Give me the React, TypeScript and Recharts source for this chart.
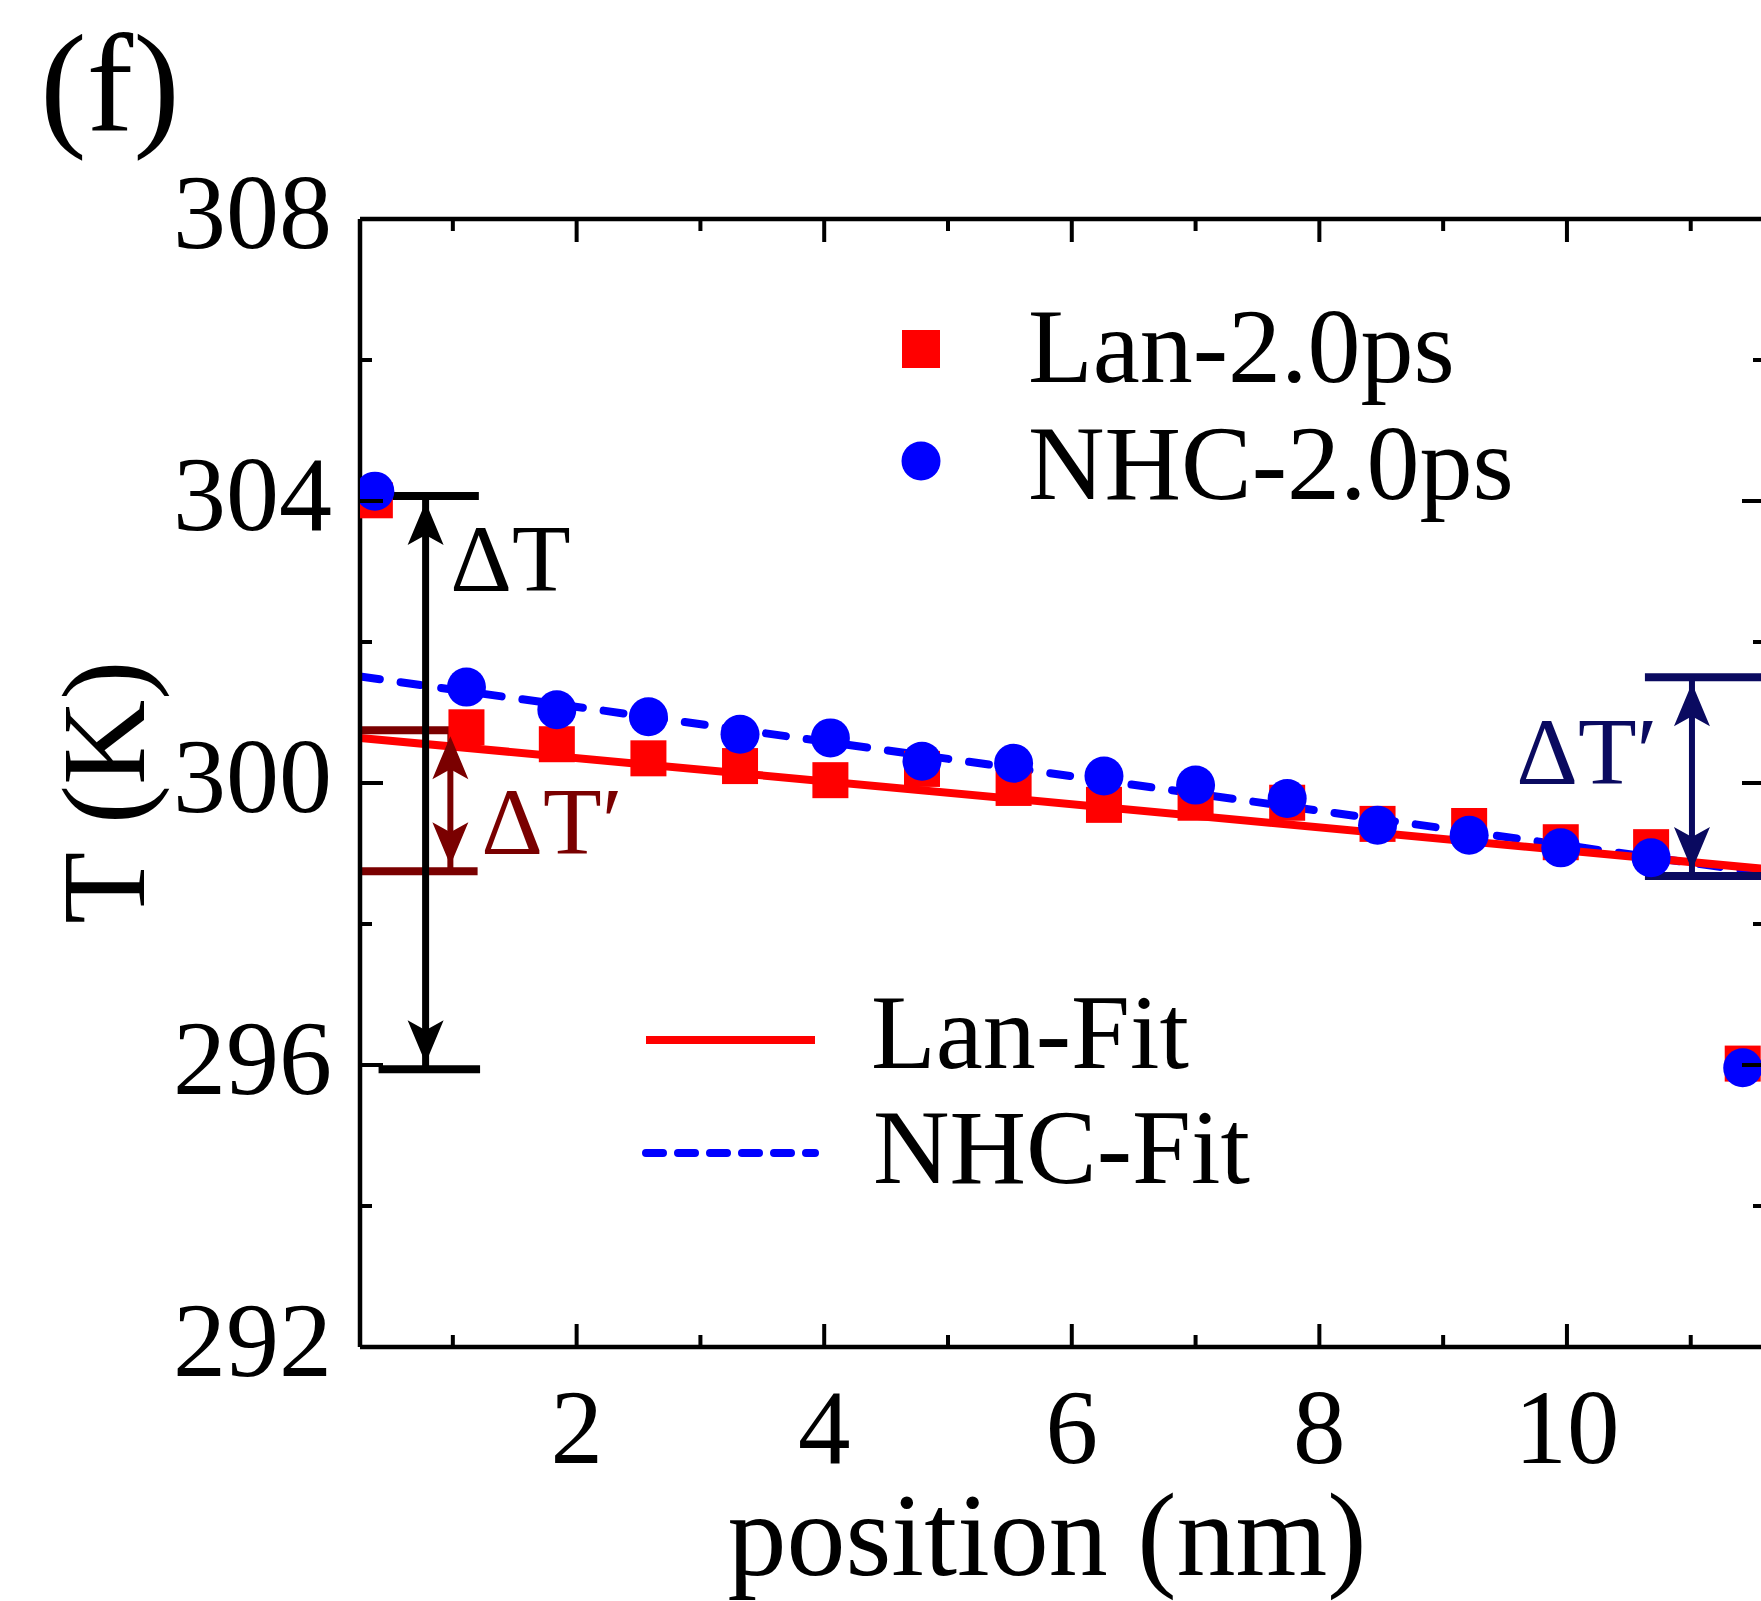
import React from 'react';
import {
    ComposedChart,
    XAxis,
    YAxis,
    Scatter,
    Line,
    ReferenceLine,
    ReferenceDot,
    Label
} from 'recharts';

// slab centres (nm) and temperatures (K)
const positions = [0.37, 1.11, 1.84, 2.58, 3.32, 4.05, 4.79, 5.53, 6.26, 7.0, 7.74, 8.47, 9.21, 9.95, 10.68, 11.42];
const lanTemps = [304.01, 300.79, 300.55, 300.35, 300.24, 300.04, 300.2, 299.93, 299.69, 299.72, 299.72, 299.42, 299.39, 299.16, 299.09, 296.02];
const nhcTemps = [304.14, 301.36, 301.04, 300.94, 300.69, 300.64, 300.31, 300.28, 300.1, 299.97, 299.78, 299.4, 299.26, 299.08, 298.94, 295.96];

// linear fits, end points
const fitX = [0.25, 11.6];
const lanFitTemps = [300.64, 298.78];
const nhcFitTemps = [301.51, 298.72];

// axes
const xDomain = [0.25, 11.6];
const yDomain = [292, 308];
const xTickValues = [1, 2, 3, 4, 5, 6, 7, 8, 9, 10, 11];
const xLabelValues = [2, 4, 6, 8, 10];
const yTickValues = [292, 294, 296, 298, 300, 302, 304, 306, 308];
const yLabelValues = [292, 296, 300, 304, 308];

// annotation levels (K)
const deltaTLevels = [304.07, 295.94];
const lanBandLevels = [300.75, 298.75];
const nhcBandLevels = [301.5, 298.68];

const FONT = '"Liberation Serif", "Times New Roman", Times, serif';
const CHART_W = 1800;
const CHART_H = 1601;
const PLOT_TOP = 219;
const PLOT_LEFT = 360;
const PLOT_RIGHT = 1765;
const PLOT_BOTTOM = 1347;
const MAJOR = 23;
const MINOR = 12;

const RED = '#ff0000';
const BLUE = '#0000ff';
const MAROON = '#7a0000';
const NAVY = '#0a0a60';

const lanPoints = positions.map((x, i) => ({ x, y: lanTemps[i] }));
const nhcPoints = positions.map((x, i) => ({ x, y: nhcTemps[i] }));
const lanFit = fitX.map((x, i) => ({ x, y: lanFitTemps[i] }));
const nhcFit = fitX.map((x, i) => ({ x, y: nhcFitTemps[i] }));

const XTick = (props: any) => {
    const { x, y, payload } = props;
    const v = payload.value;
    const major = xLabelValues.includes(v);
    const len = major ? MAJOR : MINOR;
    return (
        <g>
            <line x1={x} y1={y} x2={x} y2={y - len} stroke="#000" strokeWidth={4} />
            <line x1={x} y1={PLOT_TOP} x2={x} y2={PLOT_TOP + len} stroke="#000" strokeWidth={4} />
            {major && (
                <text x={x} y={y + 116} textAnchor="middle" fontSize={105} fontFamily={FONT} fill="#000">
                    {v}
                </text>
            )}
        </g>
    );
};

const YTick = (props: any) => {
    const { x, y, payload } = props;
    const v = payload.value;
    const major = yLabelValues.includes(v);
    const len = major ? MAJOR : MINOR;
    return (
        <g>
            <line x1={x} y1={y} x2={x + len} y2={y} stroke="#000" strokeWidth={4} />
            <line x1={PLOT_RIGHT} y1={y} x2={PLOT_RIGHT - len} y2={y} stroke="#000" strokeWidth={4} />
            {major && (
                <text x={x - 28} y={y + 29} textAnchor="end" fontSize={106} fontFamily={FONT} fill="#000">
                    {v}
                </text>
            )}
        </g>
    );
};

const square = (props: any) => (
    <rect x={props.cx - 18} y={props.cy - 18} width={36} height={36} fill={RED} />
);
const circle = (props: any) => <circle cx={props.cx} cy={props.cy} r={19.5} fill={BLUE} />;

// arrow head; dir = 1 points up (sits under a level), -1 points down
const arrowHead = (color: string, dir: number) => (props: any) => {
    const { cx, cy } = props;
    const tip = cy + dir * 6;
    const p = (dx: number, dy: number) => `${cx + dx},${tip + dir * dy}`;
    return <polygon points={`${p(0, 0)} ${p(-18, 43)} ${p(0, 33)} ${p(18, 43)}`} fill={color} />;
};

const note = (text: string, color: string) => (props: any) => (
    <text x={props.cx} y={props.cy} fontSize={96} fontFamily={FONT} fill={color}>
        {text}
    </text>
);

const hSeg = (x0: number, x1: number, y: number) => [{ x: x0, y }, { x: x1, y }];
const vSeg = (x: number, y0: number, y1: number) => [{ x, y: y0 }, { x, y: y1 }];

export default function App() {
    return (
        <div
            style={{
                position: 'absolute',
                left: 0,
                top: 0,
                width: 1761,
                height: 1601,
                overflow: 'hidden',
                background: '#fff'
            }}
        >
            <ComposedChart
                width={CHART_W}
                height={CHART_H}
                margin={{ top: PLOT_TOP, right: CHART_W - PLOT_RIGHT, bottom: 0, left: 0 }}
            >
                <XAxis
                    dataKey="x"
                    type="number"
                    domain={xDomain}
                    allowDataOverflow
                    ticks={xTickValues}
                    interval={0}
                    height={CHART_H - PLOT_BOTTOM}
                    tickSize={0}
                    tickMargin={0}
                    tickLine={false}
                    tick={<XTick />}
                    axisLine={{ stroke: '#000', strokeWidth: 4.5 }}
                >
                    <Label
                        content={() => (
                            <text x={1047} y={1575} textAnchor="middle" fontSize={118} fontFamily={FONT} fill="#000">
                                position (nm)
                            </text>
                        )}
                    />
                </XAxis>
                <YAxis
                    dataKey="y"
                    type="number"
                    domain={yDomain}
                    allowDataOverflow
                    ticks={yTickValues}
                    interval={0}
                    width={PLOT_LEFT}
                    tickSize={0}
                    tickMargin={0}
                    tickLine={false}
                    tick={<YTick />}
                    axisLine={{ stroke: '#000', strokeWidth: 4.5 }}
                >
                    <Label
                        content={() => (
                            <text
                                x={144}
                                y={792}
                                transform="rotate(-90 144 792)"
                                textAnchor="middle"
                                fontSize={118}
                                fontFamily={FONT}
                                fill="#000"
                            >
                                T (K)
                            </text>
                        )}
                    />
                </YAxis>

                <ReferenceLine y={308} stroke="#000" strokeWidth={4.5} />
                <ReferenceLine x={11.6} stroke="#000" strokeWidth={4.5} />

                <Scatter name="Lan-2.0ps" data={lanPoints} shape={square} isAnimationActive={false} />
                <Scatter name="NHC-2.0ps" data={nhcPoints} shape={circle} isAnimationActive={false} />
                <Line
                    name="NHC-Fit"
                    data={nhcFit}
                    dataKey="y"
                    stroke={BLUE}
                    strokeWidth={8}
                    strokeDasharray="20 21"
                    strokeLinecap="round"
                    dot={false}
                    activeDot={false}
                    type="linear"
                    isAnimationActive={false}
                />
                <Line
                    name="Lan-Fit"
                    data={lanFit}
                    dataKey="y"
                    stroke={RED}
                    strokeWidth={8}
                    dot={false}
                    activeDot={false}
                    type="linear"
                    isAnimationActive={false}
                />

                {/* Lan ΔT′ band */}
                <ReferenceLine segment={hSeg(0.25, 1.2, lanBandLevels[0])} stroke={MAROON} strokeWidth={8} />
                <ReferenceLine segment={hSeg(0.25, 1.2, lanBandLevels[1])} stroke={MAROON} strokeWidth={8} />
                <ReferenceLine segment={vSeg(0.98, lanBandLevels[0], lanBandLevels[1])} stroke={MAROON} strokeWidth={6} />
                <ReferenceDot x={0.98} y={lanBandLevels[0]} shape={arrowHead(MAROON, 1)} />
                <ReferenceDot x={0.98} y={lanBandLevels[1]} shape={arrowHead(MAROON, -1)} />
                <ReferenceDot x={1.23} y={299.0} shape={note('\u0394T\u2032', MAROON)} />

                {/* ΔT between the baths */}
                <ReferenceLine segment={hSeg(0.25, 1.21, deltaTLevels[0])} stroke="#000" strokeWidth={8} />
                <ReferenceLine segment={hSeg(0.4, 1.22, deltaTLevels[1])} stroke="#000" strokeWidth={8} />
                <ReferenceLine segment={vSeg(0.78, deltaTLevels[0], deltaTLevels[1])} stroke="#000" strokeWidth={7} />
                <ReferenceDot x={0.78} y={deltaTLevels[0]} shape={arrowHead('#000', 1)} />
                <ReferenceDot x={0.78} y={deltaTLevels[1]} shape={arrowHead('#000', -1)} />
                <ReferenceDot x={0.98} y={302.72} shape={note('\u0394T', '#000')} />

                {/* NHC ΔT′ band */}
                <ReferenceLine segment={hSeg(10.63, 11.6, nhcBandLevels[0])} stroke={NAVY} strokeWidth={8} />
                <ReferenceLine segment={hSeg(10.63, 11.6, nhcBandLevels[1])} stroke={NAVY} strokeWidth={8} />
                <ReferenceLine segment={vSeg(11.01, nhcBandLevels[0], nhcBandLevels[1])} stroke={NAVY} strokeWidth={6} />
                <ReferenceDot x={11.01} y={nhcBandLevels[0]} shape={arrowHead(NAVY, 1)} />
                <ReferenceDot x={11.01} y={nhcBandLevels[1]} shape={arrowHead(NAVY, -1)} />
                <ReferenceDot x={9.59} y={299.99} shape={note('\u0394T\u2032', NAVY)} />
            </ComposedChart>

            {/* panel tag and legends */}
            <svg
                width={1761}
                height={1601}
                style={{ position: 'absolute', left: 0, top: 0, pointerEvents: 'none' }}
                fontFamily={FONT}
            >
                <text x={40} y={131} fontSize={140} fill="#000">(f)</text>

                <rect x={902} y={330} width={38} height={38} fill={RED} />
                <text x={1028} y={382} fontSize={106} fill="#000">Lan-2.0ps</text>
                <circle cx={921} cy={461} r={19.5} fill={BLUE} />
                <text x={1028} y={499} fontSize={106} fill="#000">NHC-2.0ps</text>

                <line x1={646} y1={1040} x2={815} y2={1040} stroke={RED} strokeWidth={8} />
                <text x={871} y={1068} fontSize={106} fill="#000">Lan-Fit</text>
                <line
                    x1={646}
                    y1={1153}
                    x2={815}
                    y2={1153}
                    stroke={BLUE}
                    strokeWidth={8}
                    strokeDasharray="17 15"
                    strokeLinecap="round"
                />
                <text x={873} y={1183} fontSize={106} fill="#000">NHC-Fit</text>
            </svg>
        </div>
    );
}
